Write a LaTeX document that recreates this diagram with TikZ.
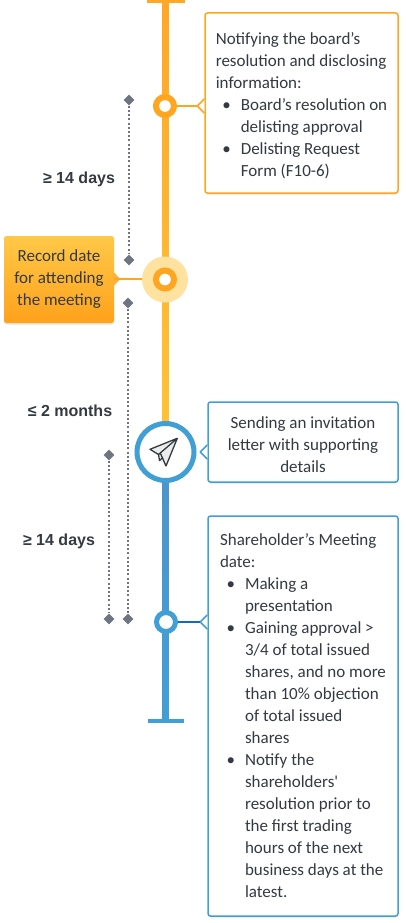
\documentclass[tikz,border=0pt]{standalone}
\usepackage{fontspec}
\setmainfont{Carlito}
\newfontfamily\plainquote{Carlito}
\newfontfamily\labelfont{Liberation Sans}
\usetikzlibrary{shapes.geometric,shadows,calc}
\definecolor{lineorange}{HTML}{FFA726}
\definecolor{lineyellow}{HTML}{FFC233}
\definecolor{ringorange}{HTML}{FFA51F}
\definecolor{halo}{HTML}{FFE2A0}
\definecolor{boxorange}{HTML}{FFB13D}
\definecolor{lineblue}{HTML}{429FD6}
\definecolor{linebluedark}{HTML}{4C94CB}
\definecolor{wireblue}{HTML}{0F6DB8}
\definecolor{dotgray}{HTML}{6E7480}
\definecolor{inktext}{HTML}{333A40}
\newcommand{\bul}{\hspace*{25pt}\llap{\textbullet\hspace*{10pt}}}
\newcommand{\ind}{\hspace*{25pt}}
\newcommand{\dropline}{\rule{0pt}{17pt}}
\newcommand{\notch}[3]{% side tip of a box: colour, point on the edge, direction
  \fill[white] ($(#2)+(0,-7)$) -- ($(#2)+(#3*7,0)$) -- ($(#2)+(0,7)$) -- cycle;
  \draw[#1,line width=1.5pt,line join=round] ($(#2)+(0,-7)$) -- ($(#2)+(#3*7,0)$) -- ($(#2)+(0,7)$);
}
\tikzset{
  infobox/.style={draw=#1,fill=white,line width=1.5pt,rounded corners=2.5pt,inner sep=0pt,
    font=\fontsize{17}{22}\selectfont,text=inktext,
    drop shadow={opacity=.2,shadow xshift=0pt,shadow yshift=-1.5pt}},
  ring/.style={circle,draw=#1,fill=white,inner sep=0pt,
    drop shadow={opacity=.25,shadow xshift=0pt,shadow yshift=-2pt}},
  tick/.style={diamond,fill=dotgray,inner sep=0pt,minimum size=11pt},
  dots/.style={dotgray,line width=1.5pt,dash pattern=on 2pt off 2.2pt},
  gaplabel/.style={font=\labelfont\bfseries\fontsize{16}{18}\selectfont,text=inktext}
}
\begin{document}
\begin{tikzpicture}[x=1pt,y=-1pt]
  \useasboundingbox (0,0) rectangle (405,923);
  % Main line
  \shade[top color=lineorange,bottom color=lineyellow] (162.5,2) rectangle (168.5,430);
  \shade[top color=linebluedark,bottom color=lineblue] (162.5,470) rectangle (168.5,721);
  \fill[lineorange] (147,0) rectangle (185,3);
  \fill[lineblue] (148,719) rectangle (184,722.5);
  % Markers
  \node[circle,fill=halo,inner sep=0pt,minimum size=46pt] (haloB) at (165,279.5) {};
  \node[ring=ringorange,line width=6pt,minimum size=18pt] (markA) at (165,106) {};
  \node[ring=ringorange,line width=6pt,minimum size=18pt,drop shadow={opacity=0}] (markB) at (165,279.5) {};
  \node[ring=lineblue,line width=5pt,minimum size=57pt] (markC) at (165.5,452) {};
  \node[ring=lineblue,line width=5pt,minimum size=19pt] (markD) at (166,622) {};
  % Paper plane
  \fill[gray!15] (177.3,438.3) -- (150,449.3) -- (158.5,455) -- (161,461) -- (166,466) -- cycle;
  \draw[inktext,line width=1.3pt,line join=round] (177.3,438.3) -- (150,449.3) -- (158.5,454.5) -- (177.3,438.3) -- (166,466) -- (160.5,453.5);
  \draw[inktext,line width=1.3pt,line join=round] (158.5,454.5) -- (159.5,460.5) -- (163,457.5);
  % Boxes
  \node[infobox=ringorange,minimum width=193pt,minimum height=180pt,align=left] (boxA) at (301.5,103) {%
    \dropline Notifying the board’s\\
    resolution and disclosing\\
    information:\\
    \bul Board’s resolution on\\
    \ind delisting approval\\
    \bul Delisting Request\\
    \ind Form (F10-6)};
  \node[rounded corners=2.5pt,top color=lineyellow!90!white,bottom color=ringorange!90!orange,
    text=inktext,font=\fontsize{17}{22}\selectfont,align=center,inner sep=0pt,
    minimum width=110pt,minimum height=87pt,
    drop shadow={opacity=.2,shadow xshift=0pt,shadow yshift=-1.5pt}] (boxB) at (59,279.5) {%
    Record date\\for attending\\the meeting};
  \node[infobox=lineblue,minimum width=190pt,minimum height=80pt,align=center] (boxC) at (303,442) {%
    \dropline Sending an invitation\\letter with supporting\\details};
  \node[infobox=lineblue,minimum width=190pt,minimum height=400pt,align=left] (boxD) at (303,716) {%
    Shareholder’s Meeting\\
    date:\\
    \bul Making a\\
    \ind presentation\\
    \bul Gaining approval >\\
    \ind 3/4 of total issued\\
    \ind shares, and no more\\
    \ind than 10\% objection\\
    \ind of total issued\\
    \ind shares\\
    \bul Notify the\\
    \ind shareholders{\plainquote'}\\
    \ind resolution prior to\\
    \ind the first trading\\
    \ind hours of the next\\
    \ind business days at the\\
    \ind latest.};
  % Notches and connectors
  \coordinate (edgeA) at (boxA.west |- markA);
  \coordinate (edgeC) at (boxC.west |- markC);
  \coordinate (edgeD) at (boxD.west |- markD);
  \coordinate (tipA) at ($(edgeA)+(-7,0)$);
  \coordinate (tipD) at ($(edgeD)+(-7,0)$);
  \notch{ringorange}{edgeA}{-1}
  \notch{lineblue}{edgeC}{-1}
  \notch{lineblue}{edgeD}{-1}
  \draw[ringorange,line width=1.5pt] (markA) -- (tipA);
  \draw[wireblue,line width=1.5pt] (markD) -- (tipD);
  \coordinate (edgeB) at ($(boxB.east |- markB)+(0,-.5)$);
  \coordinate (rimB) at ($(edgeB)+(28,0)$);
  \fill[boxorange] ($(edgeB)+(-.5,-7)$) -- ($(edgeB)+(6,0)$) -- ($(edgeB)+(-.5,7)$) -- cycle;
  \draw[color=ringorange,line width=1.5pt] (edgeB) -- (rimB);
  % Spans
  \node[tick] (tickA) at (129,100) {};
  \node[tick] (tickB) at (129,260) {};
  \node[tick] (tickC) at (128,303) {};
  \node[tick] (tickD) at (128,619) {};
  \node[tick] (tickE) at (109,455) {};
  \node[tick] (tickF) at (109,619) {};
  \draw[dots] (tickA) -- (tickB);
  \draw[dots] (tickC) -- (tickD);
  \draw[dots] (tickE) -- (tickF);
  \node[gaplabel] (gapA) at (79,179) {≥ 14 days};
  \node[gaplabel] (gapB) at (70,411) {≤ 2 months};
  \node[gaplabel] (gapC) at (59,541) {≥ 14 days};
\end{tikzpicture}
\end{document}
